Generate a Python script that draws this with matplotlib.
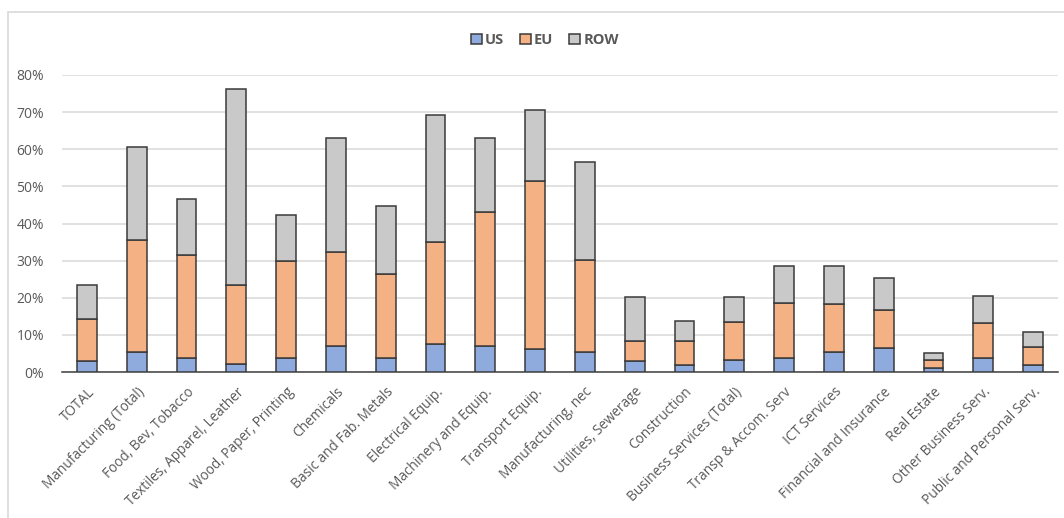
import matplotlib.pyplot as plt
import numpy as np
from matplotlib.patches import Rectangle

sectors = ["TOTAL", "Manufacturing (Total)", "Food, Bev, Tobacco",
           "Textiles, Apparel, Leather", "Wood, Paper, Printing", "Chemicals",
           "Basic and Fab. Metals", "Electrical Equip.", "Machinery and Equip.",
           "Transport Equip.", "Manufacturing, nec", "Utilities, Sewerage",
           "Construction", "Business Services (Total)", "Transp & Accom. Serv",
           "ICT Services", "Financial and Insurance", "Real Estate",
           "Other Business Serv.", "Public and Personal Serv."]

# shares in percent
us = [2.9, 5.4, 3.7, 2.2, 3.9, 6.9, 3.9, 7.6, 6.9, 6.2,
      5.4, 2.9, 1.9, 3.3, 3.7, 5.5, 6.5, 1.1, 3.9, 1.8]
eu = [11.5, 30.2, 27.9, 21.2, 26.0, 25.5, 22.4, 27.3, 36.3, 45.3,
      24.8, 5.4, 6.4, 10.1, 15.0, 12.9, 10.1, 2.1, 9.4, 5.0]
row = [9.0, 24.9, 14.9, 52.9, 12.3, 30.6, 18.4, 34.2, 19.8, 19.0,
       26.3, 11.9, 5.4, 6.8, 9.8, 10.1, 8.7, 1.9, 7.3, 4.0]

c_us, c_eu, c_row = "#8FAADC", "#F4B183", "#C9C9C9"
edge = "#3A3A3A"
txt = "#595959"

plt.rcParams['font.family'] = ['Open Sans', 'DejaVu Sans']

fig = plt.figure(figsize=(10.64, 5.18), dpi=100)
ax = fig.add_axes([62/1064, 1-372/518, 996/1064, 297/518])

x = np.arange(len(sectors))
us_a, eu_a, row_a = np.array(us), np.array(eu), np.array(row)
w = 0.4
ax.bar(x, us_a, w, color=c_us, edgecolor=edge, linewidth=1.1, label="US", zorder=3)
ax.bar(x, eu_a, w, bottom=us_a, color=c_eu, edgecolor=edge, linewidth=1.1, label="EU", zorder=3)
ax.bar(x, row_a, w, bottom=us_a+eu_a, color=c_row, edgecolor=edge, linewidth=1.1, label="ROW", zorder=3)

ax.set_xlim(-0.5, len(sectors)-0.5)
ax.set_ylim(0, 80)
ax.set_yticks(np.arange(0, 81, 10))
ax.set_yticklabels([f"{v}%" for v in range(0, 81, 10)], color=txt, fontsize=10)
ax.yaxis.grid(True, color="#D9D9D9", linewidth=1.1, zorder=0)
ax.set_axisbelow(True)
ax.tick_params(axis='y', length=0, pad=13)
ax.tick_params(axis='x', length=0, pad=9)
ax.set_xticks(x)
ax.set_xticklabels(sectors, rotation=45, ha='right', rotation_mode='anchor',
                   color=txt, fontsize=9.8)
for s in ['top', 'right', 'left']:
    ax.spines[s].set_visible(False)
ax.spines['bottom'].set_color("#404040")
ax.spines['bottom'].set_linewidth(1.1)

leg = fig.legend(loc='center', bbox_to_anchor=(545/1064, 1-40/518), ncol=3,
                 frameon=False, handlelength=0.75, handleheight=0.75,
                 handletextpad=0.2, columnspacing=1.1,
                 prop={'size': 10.5, 'weight': 'bold'})
for t in leg.get_texts():
    t.set_color(txt)

# outer chart frame
fig.patches.append(Rectangle((8/1064, -0.1), 1.2, 1-12/518+0.1,
                             transform=fig.transFigure, fill=False,
                             edgecolor="#D9D9D9", linewidth=1.2))

fig.savefig("out.png", dpi=100)
